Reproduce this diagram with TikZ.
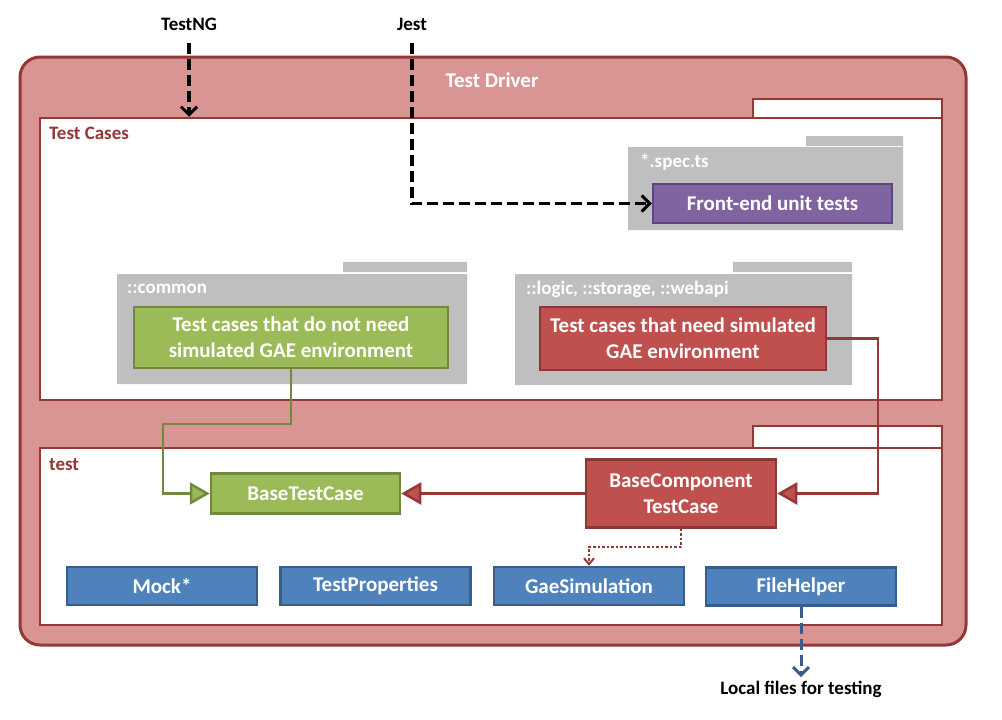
\documentclass[tikz,border=0pt]{standalone}
\usepackage{fontspec}
\setmainfont{Carlito}
\usepackage{tikz}
\usetikzlibrary{arrows.meta,positioning}
\definecolor{drvfill}{HTML}{D99594}
\definecolor{drvline}{HTML}{953735}
\definecolor{pkg}{HTML}{BFBFBF}
\definecolor{grfill}{HTML}{9BBB59}
\definecolor{grline}{HTML}{71893F}
\definecolor{rdfill}{HTML}{C0504D}
\definecolor{rdline}{HTML}{8C3836}
\definecolor{pufill}{HTML}{8064A2}
\definecolor{puline}{HTML}{5C4776}
\definecolor{blfill}{HTML}{4F81BD}
\definecolor{blline}{HTML}{385D8A}

\begin{document}
\begin{tikzpicture}[x=1pt,y=-1pt,font=\fontsize{19}{23}\selectfont\bfseries,
  box/.style={draw,line width=2.5pt,text=white,align=center,inner sep=0pt,font=\fontsize{21}{26}\selectfont\bfseries},
  greenbox/.style={box,fill=grfill,draw=grline},
  redbox/.style={box,fill=rdfill,draw=rdline},
  purplebox/.style={box,fill=pufill,draw=puline},
  bluebox/.style={box,fill=blfill,draw=blline,minimum width=190pt,minimum height=38pt},
  area/.style={draw=drvline,fill=white,line width=2.5pt,inner sep=0pt},
  pkgname/.style={anchor=west,text=white,inner sep=0pt},
  areaname/.style={anchor=west,text=drvline,inner sep=0pt},
  inherit/.style={line width=2.5pt,-{Triangle[length=20pt,width=22pt,line width=2.5pt,fill=#1]}},
  use/.style={line width=3.5pt,dashed,dash pattern=on 11pt off 5pt,-{Straight Barb[length=8pt,width=16pt,line width=3pt]}}]
  \useasboundingbox (0,0) rectangle (1002,720);

  % test driver
  \draw[drvline,fill=drvfill,line width=3pt,rounded corners=20pt] (20,57) rectangle (966,645);
  \node[text=white,font=\fontsize{21}{25}\selectfont\bfseries] (driver) at (492,80) {Test Driver};

  % test cases area
  \draw[area] (753,99) rectangle (942,118);
  \node[area,minimum width=902pt,minimum height=282pt] (cases) at (491,259) {};
  \node[areaname] (casesname) at (49,133) {Test Cases};

  % test area
  \draw[area] (753,426) rectangle (942,448);
  \node[area,minimum width=902pt,minimum height=177pt] (test) at (491,536.5) {};
  \node[areaname] (testname) at (49,465) {test};

  % packages
  \fill[pkg] (806,136) rectangle (903,146) (628,147) rectangle (903,230);
  \fill[pkg] (343,262) rectangle (467,272) (117,274) rectangle (467,384);
  \fill[pkg] (733,262) rectangle (852,272) (515,274) rectangle (852,385);
  \node[pkgname] (spec) at (640,162) {*.spec.ts};
  \node[pkgname] (common) at (127,289) {::common};
  \node[pkgname] (logic) at (526,289) {::logic, ::storage, ::webapi};

  \node[purplebox,minimum width=239pt,minimum height=39pt] (frontend) at (772.5,203.5) {Front-end unit tests};
  \node[greenbox,minimum width=314pt,minimum height=61pt] (nosim) at (291,337.5) {Test cases that do not need\\simulated GAE environment};
  \node[redbox,minimum width=286pt,minimum height=63pt] (needsim) at (683,338.5) {Test cases that need simulated\\GAE environment};

  \node[greenbox,minimum width=189pt,minimum height=40pt] (btc) at (305.5,493.5) {BaseTestCase};
  \node[redbox,minimum width=190pt,minimum height=68pt] (bct) at (681,493.5) {BaseComponent\\TestCase};

  \node[bluebox] (mock) at (162,586) {Mock*};
  \node[bluebox] (props) at (375.5,586) {TestProperties};
  \node[bluebox] (gae) at (589,586) {GaeSimulation};
  \node[bluebox] (files) at (801,586.5) {FileHelper};

  % runners
  \node (testng) at (189,24) {TestNG};
  \node (jest) at (412,24) {Jest};
  \node (local) at (801,689) {Local files for testing};

  \draw[use,shorten <=9pt] (testng.south) -- (testng |- cases.north);
  \draw[use,shorten <=9pt] (jest.south) |- (frontend.west);

  \draw[inherit=grfill,grline] (nosim.south) |- (163,424) |- (btc.west);
  \draw[inherit=rdfill,drvline] (bct.west) -- (btc.east);
  \draw[inherit=rdfill,drvline] (needsim.east) -| (878,493.5) -- (bct.east);

  \draw[drvline,line width=2.5pt,dotted,-{Straight Barb[length=6pt,width=10pt,line width=2pt]}] (bct.south) |- (589,547) -- (gae.north);
  \draw[blline,use,line width=3pt] (files.south) -- (local.north);
\end{tikzpicture}
\end{document}
